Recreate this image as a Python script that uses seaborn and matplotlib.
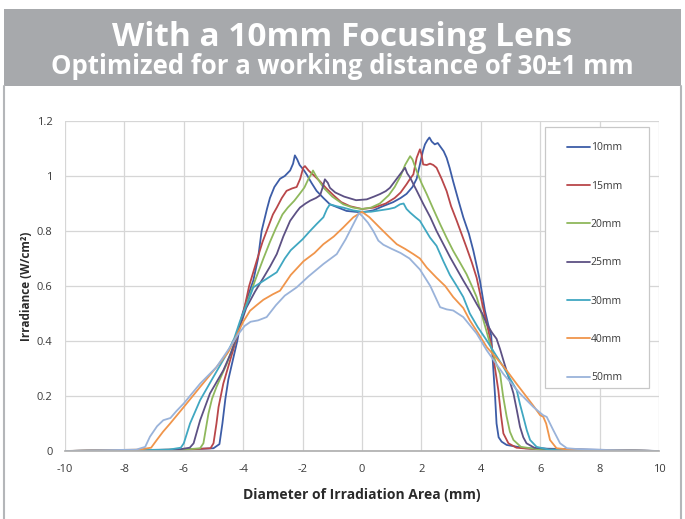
import seaborn as sns
import matplotlib.pyplot as plt
import matplotlib.patches as mpatches
import matplotlib.lines as mlines
import pandas as pd

# Valores (x em mm, y em W/cm²)
pts_10mm = [(-10, 0), (-6, 0.005), (-5.0, 0.01), (-4.8, 0.025), (-4.7, 0.1), (-4.6, 0.19), (-4.5, 0.26),
            (-4.35, 0.33), (-4.2, 0.4), (-4.05, 0.49), (-3.85, 0.56), (-3.66, 0.62), (-3.5, 0.7), (-3.38, 0.8),
            (-3.2, 0.88), (-3.1, 0.92), (-2.95, 0.96), (-2.76, 0.99), (-2.6, 1.0), (-2.42, 1.02), (-2.32, 1.045),
            (-2.26, 1.075), (-2.18, 1.06), (-2.1, 1.04), (-1.95, 1.02), (-1.86, 1.005), (-1.7, 0.975),
            (-1.53, 0.946), (-1.3, 0.92), (-1.08, 0.897), (-0.8, 0.885), (-0.52, 0.873), (-0.25, 0.87),
            (0.0, 0.868), (0.38, 0.875), (0.7, 0.89), (1.05, 0.905), (1.3, 0.92), (1.5, 0.935), (1.7, 0.96),
            (1.84, 0.99), (1.95, 1.042), (2.05, 1.09), (2.12, 1.115), (2.2, 1.13), (2.27, 1.14), (2.35, 1.125),
            (2.45, 1.115), (2.55, 1.12), (2.63, 1.108), (2.75, 1.09), (2.85, 1.066), (2.95, 1.03), (3.07, 0.98),
            (3.25, 0.91), (3.41, 0.85), (3.6, 0.79), (3.75, 0.728), (3.97, 0.62), (4.14, 0.51), (4.25, 0.46),
            (4.35, 0.42), (4.42, 0.3), (4.48, 0.2), (4.53, 0.1), (4.6, 0.05), (4.7, 0.034), (4.87, 0.022),
            (5.5, 0.01), (10, 0)]
pts_15mm = [(-10, 0), (-6, 0.005), (-5.1, 0.01), (-5.0, 0.028), (-4.9, 0.1), (-4.83, 0.16), (-4.67, 0.245),
            (-4.44, 0.33), (-4.25, 0.4), (-4.0, 0.5), (-3.8, 0.6), (-3.55, 0.69), (-3.35, 0.76), (-3.21, 0.8),
            (-3.0, 0.86), (-2.87, 0.885), (-2.7, 0.92), (-2.54, 0.946), (-2.35, 0.955), (-2.2, 0.96),
            (-2.08, 0.99), (-1.98, 1.03), (-1.92, 1.036), (-1.8, 1.02), (-1.6, 1.0), (-1.41, 0.98),
            (-1.2, 0.955), (-0.96, 0.93), (-0.7, 0.905), (-0.4, 0.89), (0.0, 0.88), (0.4, 0.885), (0.8, 0.9),
            (1.1, 0.92), (1.3, 0.94), (1.5, 0.97), (1.62, 0.99), (1.73, 1.006), (1.84, 1.066), (1.95, 1.097),
            (2.0, 1.08), (2.06, 1.042), (2.18, 1.04), (2.29, 1.045), (2.4, 1.04), (2.51, 1.03), (2.68, 0.99),
            (2.85, 0.945), (3.0, 0.89), (3.19, 0.837), (3.35, 0.79), (3.52, 0.74), (3.7, 0.685), (3.86, 0.63),
            (4.08, 0.52), (4.25, 0.44), (4.37, 0.378), (4.48, 0.3), (4.59, 0.221), (4.68, 0.13), (4.76, 0.064),
            (4.93, 0.028), (5.2, 0.012), (6, 0.005), (10, 0)]
pts_20mm = [(-10, 0), (-6, 0.005), (-5.45, 0.01), (-5.34, 0.028), (-5.17, 0.136), (-5.05, 0.19), (-4.9, 0.233),
            (-4.55, 0.318), (-4.3, 0.39), (-4.1, 0.46), (-3.9, 0.53), (-3.6, 0.62), (-3.32, 0.7), (-3.1, 0.76),
            (-2.9, 0.81), (-2.68, 0.86), (-2.5, 0.885), (-2.28, 0.91), (-2.1, 0.935), (-1.94, 0.958),
            (-1.8, 0.99), (-1.71, 1.006), (-1.65, 1.02), (-1.55, 1.0), (-1.3, 0.958), (-1.0, 0.925),
            (-0.63, 0.897), (-0.3, 0.885), (0.0, 0.88), (0.3, 0.885), (0.6, 0.9), (0.9, 0.93), (1.1, 0.96),
            (1.3, 1.0), (1.45, 1.04), (1.62, 1.072), (1.7, 1.06), (1.84, 1.018), (2.0, 0.975), (2.18, 0.934),
            (2.4, 0.88), (2.63, 0.825), (2.85, 0.775), (3.07, 0.728), (3.3, 0.685), (3.52, 0.643), (3.7, 0.6),
            (3.86, 0.56), (4.05, 0.49), (4.31, 0.39), (4.48, 0.33), (4.65, 0.28), (4.75, 0.2), (4.87, 0.125),
            (4.98, 0.07), (5.1, 0.04), (5.35, 0.015), (6, 0.005), (10, 0)]
pts_25mm = [(-10, 0), (-6.2, 0.005), (-5.8, 0.012), (-5.67, 0.028), (-5.45, 0.112), (-5.12, 0.209),
            (-4.9, 0.25), (-4.67, 0.293), (-4.4, 0.36), (-4.15, 0.44), (-3.9, 0.52), (-3.6, 0.58), (-3.32, 0.63),
            (-3.1, 0.67), (-2.87, 0.716), (-2.65, 0.78), (-2.42, 0.837), (-2.2, 0.87), (-2.09, 0.885),
            (-1.9, 0.9), (-1.75, 0.91), (-1.55, 0.92), (-1.41, 0.93), (-1.32, 0.96), (-1.25, 0.988),
            (-1.15, 0.975), (-1.08, 0.957), (-0.9, 0.94), (-0.6, 0.925), (-0.2, 0.912), (0.16, 0.915),
            (0.4, 0.925), (0.6, 0.934), (0.8, 0.945), (0.94, 0.957), (1.1, 0.98), (1.28, 1.006), (1.38, 1.02),
            (1.45, 1.03), (1.52, 1.01), (1.62, 0.994), (1.85, 0.945), (2.07, 0.897), (2.3, 0.85), (2.51, 0.8),
            (2.75, 0.75), (2.97, 0.704), (3.2, 0.66), (3.41, 0.62), (3.63, 0.58), (3.86, 0.535), (4.05, 0.5),
            (4.2, 0.462), (4.38, 0.43), (4.53, 0.408), (4.65, 0.37), (4.76, 0.33), (4.93, 0.27), (5.1, 0.209),
            (5.21, 0.15), (5.32, 0.088), (5.43, 0.05), (5.54, 0.028), (5.8, 0.012), (6.5, 0.005), (10, 0)]
pts_30mm = [(-10, 0), (-6.5, 0.005), (-6.1, 0.012), (-6.0, 0.028), (-5.79, 0.1), (-5.45, 0.185), (-5.0, 0.27),
            (-4.55, 0.354), (-4.3, 0.41), (-4.1, 0.475), (-3.85, 0.54), (-3.66, 0.595), (-3.3, 0.62),
            (-2.87, 0.65), (-2.6, 0.7), (-2.4, 0.73), (-2.0, 0.77), (-1.75, 0.8), (-1.53, 0.825), (-1.3, 0.85),
            (-1.18, 0.88), (-1.08, 0.897), (-0.85, 0.89), (-0.63, 0.885), (-0.3, 0.875), (0.0, 0.87),
            (0.3, 0.87), (0.6, 0.875), (0.9, 0.88), (1.1, 0.885), (1.28, 0.897), (1.4, 0.9), (1.5, 0.88),
            (1.62, 0.867), (1.8, 0.85), (1.95, 0.837), (2.1, 0.81), (2.29, 0.776), (2.51, 0.746), (2.74, 0.69),
            (2.96, 0.64), (3.19, 0.6), (3.41, 0.56), (3.63, 0.5), (3.9, 0.45), (4.2, 0.402), (4.5, 0.35),
            (4.76, 0.306), (5.0, 0.26), (5.21, 0.221), (5.32, 0.17), (5.43, 0.125), (5.55, 0.075), (5.66, 0.04),
            (5.88, 0.015), (6.3, 0.005), (10, 0)]
pts_40mm = [(-10, 0), (-7.5, 0.005), (-7.1, 0.012), (-6.91, 0.04), (-6.7, 0.07), (-6.46, 0.1), (-6.0, 0.16),
            (-5.45, 0.233), (-4.9, 0.305), (-4.5, 0.36), (-4.22, 0.42), (-4.0, 0.47), (-3.77, 0.51),
            (-3.55, 0.53), (-3.32, 0.55), (-3.0, 0.57), (-2.76, 0.583), (-2.4, 0.64), (-1.97, 0.69), (-1.6, 0.72),
            (-1.3, 0.752), (-0.95, 0.78), (-0.63, 0.813), (-0.29, 0.85), (0.0, 0.87), (0.25, 0.85), (0.6, 0.812),
            (0.9, 0.78), (1.17, 0.752), (1.45, 0.735), (1.73, 0.716), (1.95, 0.7), (2.18, 0.667), (2.51, 0.63),
            (2.8, 0.6), (3.07, 0.56), (3.41, 0.52), (3.63, 0.475), (3.9, 0.43), (4.2, 0.378), (4.55, 0.335),
            (4.87, 0.293), (5.2, 0.245), (5.54, 0.197), (5.8, 0.16), (6.0, 0.13), (6.1, 0.125), (6.2, 0.1),
            (6.33, 0.04), (6.55, 0.01), (7.0, 0.005), (10, 0)]
pts_50mm = [(-10, 0), (-7.6, 0.005), (-7.3, 0.015), (-7.14, 0.052), (-6.9, 0.09), (-6.69, 0.112), (-6.45, 0.12),
            (-6.25, 0.145), (-6.0, 0.173), (-5.45, 0.245), (-4.9, 0.305), (-4.44, 0.378), (-4.2, 0.42),
            (-3.95, 0.455), (-3.75, 0.47), (-3.5, 0.475), (-3.21, 0.487), (-2.9, 0.53), (-2.6, 0.565),
            (-2.2, 0.595), (-1.8, 0.635), (-1.3, 0.68), (-0.85, 0.716), (-0.55, 0.77), (-0.29, 0.825),
            (-0.1, 0.865), (0.0, 0.855), (0.2, 0.83), (0.38, 0.8), (0.55, 0.765), (0.72, 0.75), (1.0, 0.735),
            (1.3, 0.72), (1.6, 0.7), (1.95, 0.66), (2.3, 0.6), (2.63, 0.523), (2.85, 0.515), (3.07, 0.511),
            (3.41, 0.487), (3.86, 0.427), (4.2, 0.366), (4.76, 0.28), (5.32, 0.209), (5.77, 0.16), (6.1, 0.13),
            (6.22, 0.124), (6.44, 0.076), (6.67, 0.028), (6.9, 0.01), (7.5, 0.005), (10, 0)]

series = ["10mm", "15mm", "20mm", "25mm", "30mm", "40mm", "50mm"]
todos_pts = [pts_10mm, pts_15mm, pts_20mm, pts_25mm, pts_30mm, pts_40mm, pts_50mm]
cores = ["#3d5da7", "#b9474a", "#8fb85c", "#5d5184", "#40a7c1", "#f0954b", "#9ab3da"]

x_ticks = [-10, -8, -6, -4, -2, 0, 2, 4, 6, 8, 10]
y_ticks = [0, 0.2, 0.4, 0.6, 0.8, 1, 1.2]
y_tick_labels = ["0", "0.2", "0.4", "0.6", "0.8", "1", "1.2"]

# Monta tabela longa para o seaborn
linhas = []
for nome, pts in zip(series, todos_pts):
    for x, y in pts:
        linhas.append({"diam": x, "irr": y, "serie": nome})
dados = pd.DataFrame(linhas)

sns.set_theme(style="white")
plt.rcParams['font.family'] = ['Open Sans', 'DejaVu Sans']
plt.rcParams['axes.unicode_minus'] = False

W, H = 685, 519
fig = plt.figure(figsize=(W / 100, H / 100), dpi=100)
fig.patch.set_facecolor("white")

# Faixa cinza do título e moldura do painel
fig.patches.append(mpatches.Rectangle((4 / W, 1 - 86 / H), 677 / W, 77 / H, transform=fig.transFigure,
                                      facecolor="#a7a9ac", edgecolor="none", zorder=0))
fig.lines.append(mlines.Line2D([4 / W, 4 / W], [0, 1 - 86 / H], transform=fig.transFigure, color="#b4b6b9", lw=1.5))
fig.lines.append(mlines.Line2D([681 / W, 681 / W], [0, 1 - 86 / H], transform=fig.transFigure, color="#b4b6b9", lw=1.5))
fig.text(0.5, 1 - 37 / H, "With a 10mm Focusing Lens", ha="center", va="center", color="white",
         fontsize=24, fontweight="bold")
fig.text(0.5, 1 - 66 / H, "Optimized for a working distance of 30\u00b11 mm", ha="center", va="center",
         color="white", fontsize=18.5, fontweight="bold")

ax = fig.add_axes([65 / W, 1 - 451 / H, 594 / W, 330 / H])
sns.lineplot(data=dados, x="diam", y="irr", hue="serie", hue_order=series, palette=dict(zip(series, cores)),
             errorbar=None, linewidth=1.3, ax=ax)

ax.set_xlim(-10, 10)
ax.set_ylim(0, 1.2)
ax.set_xticks(x_ticks)
ax.set_yticks(y_ticks)
ax.set_yticklabels(y_tick_labels)
ax.grid(True, color="#d6d6d6", linewidth=0.9)
for lado in ["top", "right", "left"]:
    ax.spines[lado].set_visible(False)
ax.spines["bottom"].set_color("#b0b0b0")
ax.tick_params(axis="both", length=0, labelsize=8, labelcolor="#3a3a3a")
ax.tick_params(axis="x", pad=9)
ax.tick_params(axis="y", pad=9)

ax.set_xlabel("Diameter of Irradiation Area (mm)", fontsize=10, fontweight="bold", color="#2a2a2a")
ax.set_ylabel("Irradiance (W/cm\u00b2)", fontsize=8.5, fontweight="bold", color="#2a2a2a")
ax.xaxis.set_label_coords(0.5, -0.112)
ax.yaxis.set_label_coords(-0.054, 0.5)

# Caixa da legenda (branca, cobre as grades)
ax.add_patch(mpatches.Rectangle((0.808, 0.191), 0.175, 0.791, transform=ax.transAxes, facecolor="white",
                                edgecolor="#c8c8c8", linewidth=0.9, zorder=4))
leg = ax.legend(loc="upper left", bbox_to_anchor=(0.845, 0.935), frameon=False, fontsize=7.5,
                labelspacing=2.62, handlelength=2.2, handletextpad=0.1, borderpad=0, borderaxespad=0)
leg.set_zorder(5)
for t in leg.get_texts():
    t.set_color("#3a3a3a")

fig.savefig("out.png", dpi=100)
